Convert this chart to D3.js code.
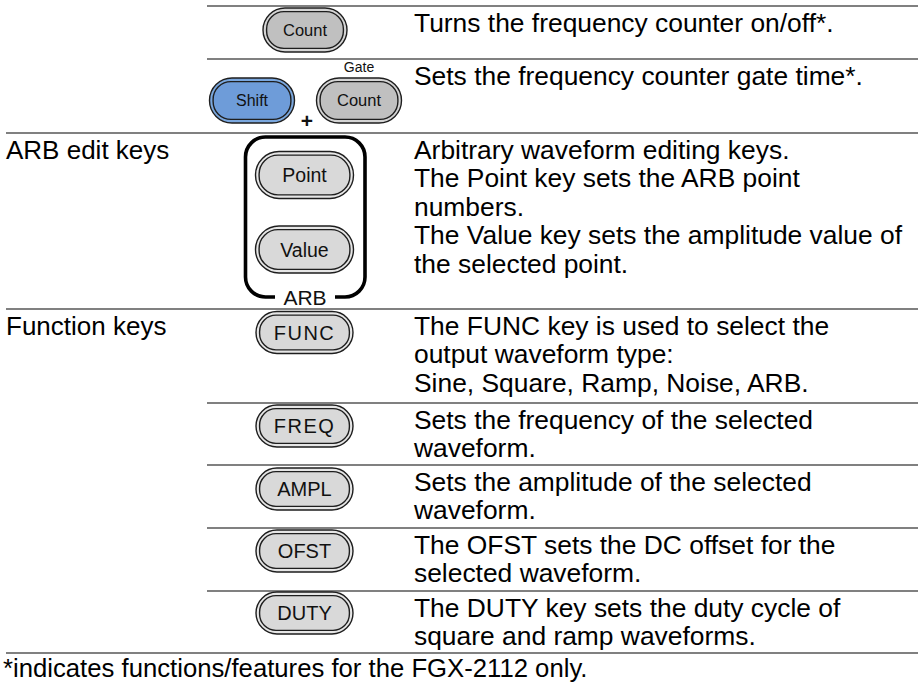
<!DOCTYPE html>
<html>
<head>
<meta charset="utf-8">
<script src="https://cdn.jsdelivr.net/npm/d3@7"></script>
<style>
  html, body { margin: 0; padding: 0; background: #fff; }
  svg { display: block; }
</style>
</head>
<body>
<svg id="chart" width="918" height="683"></svg>
<script>
// ---------- data ----------
const sectionLabels = ["", "", "ARB edit keys", "Function keys", "", "", "", ""];
const rowKeys = [["Count"], ["Shift", "Count"], ["Point", "Value"], ["FUNC"], ["FREQ"], ["AMPL"], ["OFST"], ["DUTY"]];
const descriptions = [
  ["Turns the frequency counter on/off*."],
  ["Sets the frequency counter gate time*."],
  ["Arbitrary waveform editing keys.", "The Point key sets the ARB point", "numbers.", "The Value key sets the amplitude value of", "the selected point."],
  ["The FUNC key is used to select the", "output waveform type:", "Sine, Square, Ramp, Noise, ARB."],
  ["Sets the frequency of the selected", "waveform."],
  ["Sets the amplitude of the selected", "waveform."],
  ["The OFST sets the DC offset for the", "selected waveform."],
  ["The DUTY key sets the duty cycle of", "square and ramp waveforms."]
];
const shiftedLabel = "Gate";
const groupLabel = "ARB";
const comboSign = "+";
const footnote = "*indicates functions/features for the FGX-2112 only.";

// ---------- layout ----------
const FONT = "'Liberation Sans', Arial, sans-serif";
const rowEdges = [6, 59, 133, 309, 403, 465, 528, 591, 653];
const yRow = d3.scaleOrdinal().domain(d3.range(rowEdges.length)).range(rowEdges);
const lineStep = 28.5;
const yLine = (row, i) => yRow(row) + 25.5 + i * lineStep;
const xCol = d3.scaleOrdinal().domain(["label", "keyStart", "key", "desc", "end"]).range([6, 207, 304.5, 414, 918]);

const svg = d3.select("#chart");

// rules
const rules = d3.range(rowEdges.length).map(i => ({
  y: yRow(i),
  full: i === rowEdges.length - 1 || (i < sectionLabels.length && sectionLabels[i] !== "")
}));
svg.append("g").selectAll("line").data(rules).join("line")
  .attr("x1", d => d.full ? xCol("label") : xCol("keyStart"))
  .attr("x2", xCol("end"))
  .attr("y1", d => d.y).attr("y2", d => d.y)
  .attr("stroke", "#808080").attr("stroke-width", 2.2);

// section labels
svg.append("g").selectAll("text").data(sectionLabels.map((t, i) => ({t, i})).filter(d => d.t)).join("text")
  .attr("x", xCol("label")).attr("y", d => yLine(d.i, 0))
  .attr("font-family", FONT).attr("font-size", 26).attr("fill", "#000")
  .text(d => d.t);

// descriptions
const descData = [];
descriptions.forEach((lines, r) => lines.forEach((t, i) => descData.push({t, r, i})));
svg.append("g").selectAll("text").data(descData).join("text")
  .attr("x", xCol("desc")).attr("y", d => yLine(d.r, d.i))
  .attr("font-family", FONT).attr("font-size", 26.4).attr("fill", "#000")
  .text(d => d.t);

// key drawing helper
function pill(g, cx, cy, w, h, label, opt) {
  const k = g.append("g").attr("transform", `translate(${cx},${cy})`);
  k.append("rect").attr("x", -w / 2).attr("y", -h / 2).attr("width", w).attr("height", h)
    .attr("rx", h / 2).attr("ry", h / 2)
    .attr("fill", opt.ring).attr("stroke", "#1e1e1e").attr("stroke-width", 1.4);
  const ins = 3.6;
  k.append("rect").attr("x", -w / 2 + ins).attr("y", -h / 2 + ins).attr("width", w - 2 * ins).attr("height", h - 2 * ins)
    .attr("rx", (h - 2 * ins) / 2 - 1).attr("ry", (h - 2 * ins) / 2 - 1)
    .attr("fill", opt.fill).attr("stroke", "#1e1e1e").attr("stroke-width", 1.4);
  k.append("text").attr("x", 0).attr("y", opt.fs * 0.36)
    .attr("text-anchor", "middle").attr("font-family", FONT).attr("font-size", opt.fs)
    .attr("letter-spacing", opt.ls || 0)
    .attr("fill", "#111").text(label);
  return k;
}

const keysG = svg.append("g");
const grayDark = {ring: "#d4d4d4", fill: "#c0c0c0", fs: 16.5};
const grayLight = {ring: "#e6e6e6", fill: "#d9d9d9", fs: 20};
const blue = {ring: "#7aa7de", fill: "#6e9cd9", fs: 16};

// row 0: Count
pill(keysG, 305, 30, 84, 44, rowKeys[0][0], grayDark);
// row 1: Shift + Count (Gate)
pill(keysG, 252, 100.5, 85, 45, rowKeys[1][0], blue);
pill(keysG, 359, 100.5, 85, 45, rowKeys[1][1], grayDark);
keysG.append("text").attr("x", 359).attr("y", 72).attr("text-anchor", "middle")
  .attr("font-family", FONT).attr("font-size", 14).attr("fill", "#111").text(shiftedLabel);
keysG.append("text").attr("x", 307).attr("y", 128).attr("text-anchor", "middle")
  .attr("font-family", FONT).attr("font-size", 21).attr("font-weight", "bold").attr("fill", "#111").text(comboSign);

// row 2: ARB group
const bx0 = 245.5, bx1 = 365, by0 = 137, by1 = 297, r = 20, gap0 = 275, gap1 = 335;
const bracket = d3.path();
bracket.moveTo(gap0, by1);
bracket.lineTo(bx0 + r, by1);
bracket.arcTo(bx0, by1, bx0, by1 - r, r);
bracket.lineTo(bx0, by0 + r);
bracket.arcTo(bx0, by0, bx0 + r, by0, r);
bracket.lineTo(bx1 - r, by0);
bracket.arcTo(bx1, by0, bx1, by0 + r, r);
bracket.lineTo(bx1, by1 - r);
bracket.arcTo(bx1, by1, bx1 - r, by1, r);
bracket.lineTo(gap1, by1);
keysG.append("path").attr("d", bracket.toString()).attr("fill", "none")
  .attr("stroke", "#000").attr("stroke-width", 3.6);
keysG.append("text").attr("x", 305).attr("y", 304.5).attr("text-anchor", "middle")
  .attr("font-family", FONT).attr("font-size", 21).attr("fill", "#111").text(groupLabel);
pill(keysG, 304.5, 175, 98, 47, rowKeys[2][0], {...grayLight, fs: 19.5});
pill(keysG, 304.5, 249.5, 98, 47, rowKeys[2][1], {...grayLight, fs: 19.5});

// rows 3-7: function keys
const fnCenters = [332.5, 426, 489, 551, 613];
[3, 4, 5, 6, 7].forEach((row, j) => {
  const lab = rowKeys[row][0];
  const ls = (lab === "FUNC" || lab === "FREQ") ? 1.5 : 0;
  pill(keysG, 304.5, fnCenters[j], 97, 42, lab, {...grayLight, ls});
});

// footnote
svg.append("text").attr("x", 3).attr("y", 677)
  .attr("font-family", FONT).attr("font-size", 25.7).attr("fill", "#000")
  .text(footnote);
</script>
</body>
</html>
